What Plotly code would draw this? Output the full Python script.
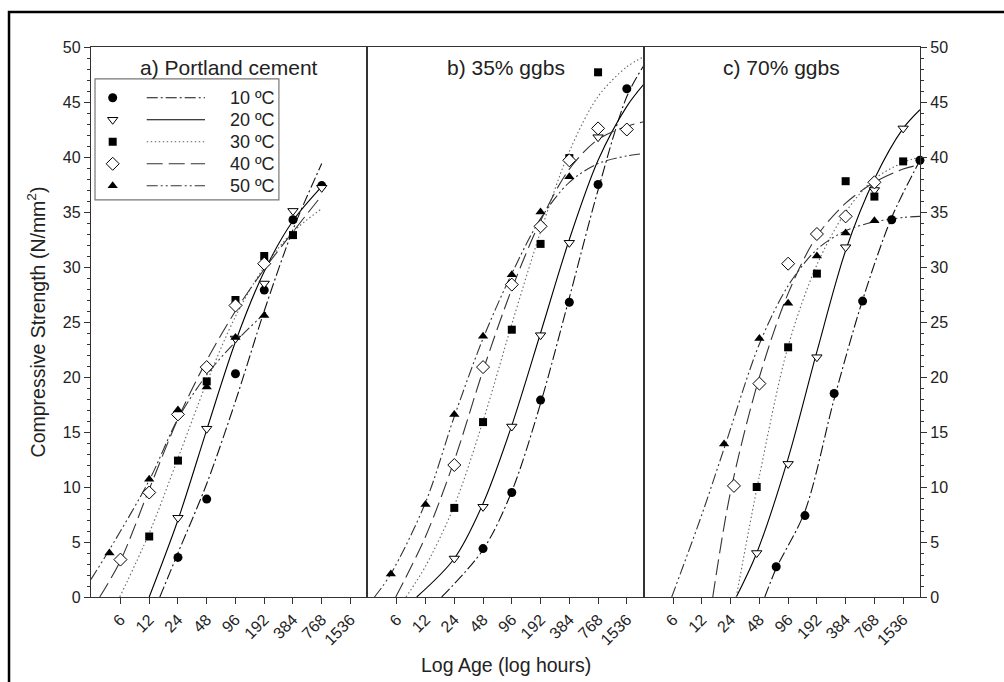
import math
import plotly.graph_objects as go

FONT = "Liberation Sans, Arial, Helvetica, sans-serif"
INK = "#222222"

temps = ["10 ºC", "20 ºC", "30 ºC", "40 ºC", "50 ºC"]
panel_titles = ["a) Portland cement", "b) 35% ggbs", "c) 70% ggbs"]
age_ticks = [6, 12, 24, 48, 96, 192, 384, 768, 1536]
age_range = [2.95, 2305]
strength_range = [0, 50]

# ---- a) Portland cement: cube results (age h, strength N/mm2) ----
pc_10 = ([24, 48, 96, 192, 384, 768], [3.6, 8.9, 20.3, 27.9, 34.3, 37.4])
pc_20 = ([24, 48, 96, 192, 384, 768], [7.2, 15.3, 23.5, 28.5, 35.1, 37.2])
pc_30 = ([12, 24, 48, 96, 192, 384], [5.5, 12.4, 19.6, 27.0, 31.0, 32.9])
pc_40 = ([6, 12, 24, 48, 96, 192], [3.4, 9.5, 16.6, 20.9, 26.5, 30.3])
pc_50 = ([4.6, 12, 24, 48, 96, 192], [4.0, 10.7, 17.0, 19.1, 23.6, 25.6])
# fitted strength-development curves
pc_10_fit = ([15.5, 24, 48, 96, 192, 384, 768], [0, 4.0, 10.3, 17.8, 26.0, 33.4, 39.4])
pc_20_fit = ([12, 24, 48, 96, 192, 384, 768], [0, 7.0, 15.2, 23.2, 29.6, 34.2, 37.3])
pc_30_fit = ([5.9, 12, 24, 48, 96, 192, 384, 768], [0, 5.8, 12.6, 19.5, 25.5, 30.0, 33.2, 35.3])
pc_40_fit = ([3.64, 6, 12, 24, 48, 96, 192, 384, 768], [0, 3.3, 9.8, 16.2, 21.5, 26.0, 29.8, 33.2, 36.5])
pc_50_fit = ([2.95, 4.6, 12, 24, 48, 96, 200], [1.6, 4.3, 10.6, 16.2, 20.2, 23.2, 25.9])

# ---- b) 35% ggbs ----
g35_10 = ([48, 96, 192, 384, 768, 1536], [4.4, 9.5, 17.9, 26.8, 37.5, 46.2])
g35_20 = ([24, 48, 96, 192, 384, 768], [3.5, 8.2, 15.5, 23.8, 32.2, 41.8])
g35_30 = ([24, 48, 96, 192, 384, 768], [8.1, 15.9, 24.3, 32.1, 39.9, 47.7])
g35_40 = ([24, 48, 96, 192, 384, 768, 1536], [12.0, 20.9, 28.4, 33.7, 39.7, 42.6, 42.5])
g35_50 = ([5.2, 12, 24, 48, 96, 192, 384], [2.1, 8.4, 16.6, 23.7, 29.3, 35.0, 38.2])
g35_10_fit = ([17.7, 48, 96, 192, 384, 768, 1536, 2305], [0, 4.3, 9.6, 17.6, 27.2, 37.0, 45.5, 48.3])
g35_20_fit = ([9.7, 24, 48, 96, 192, 384, 768, 1536, 2305], [0, 3.5, 8.5, 15.6, 24.0, 32.5, 39.7, 44.6, 46.6])
g35_30_fit = ([7.5, 12, 24, 48, 96, 192, 384, 768, 1536, 2305], [0, 2.8, 8.3, 16.0, 24.8, 33.2, 40.5, 45.5, 48.2, 49.1])
g35_40_fit = ([5.85, 12, 24, 48, 96, 192, 384, 768, 1536, 2305], [0, 5.5, 12.4, 20.6, 28.0, 34.2, 38.9, 41.6, 42.8, 43.2])
g35_50_fit = ([3.5, 5.2, 12, 24, 48, 96, 192, 384, 768, 1536, 2305], [0, 2.1, 8.6, 16.4, 23.5, 29.4, 34.4, 37.7, 39.4, 40.1, 40.3])

# ---- c) 70% ggbs ----
g70_10 = ([72, 144, 291, 578, 1165, 2300], [2.75, 7.4, 18.5, 26.9, 34.3, 39.7])
g70_20 = ([45, 96, 192, 384, 768, 1536], [4.0, 12.1, 21.8, 31.8, 37.0, 42.6])
g70_30 = ([45, 96, 192, 384, 768, 1536], [10.0, 22.7, 29.4, 37.8, 36.4, 39.6])
g70_40 = ([26, 48, 96, 192, 384, 768], [10.1, 19.4, 30.3, 33.0, 34.6, 37.7])
g70_50 = ([20.5, 48, 96, 192, 384, 768], [13.9, 23.5, 26.7, 31.0, 33.1, 34.2])
g70_10_fit = ([54.7, 72, 144, 291, 578, 1165, 2305], [0, 2.6, 7.8, 18.0, 27.0, 34.5, 39.7])
g70_20_fit = ([27.5, 45, 96, 192, 384, 768, 1536, 2305], [0, 4.0, 12.6, 22.3, 31.5, 38.0, 42.6, 44.3])
g70_30_fit = ([27.5, 48, 96, 192, 384, 768, 1536, 2305], [0, 11.0, 22.8, 30.2, 35.0, 38.0, 39.5, 40.0])
g70_40_fit = ([15.6, 24, 48, 96, 192, 384, 768, 1536, 2305], [0, 9.6, 20.0, 27.6, 32.8, 35.8, 37.7, 38.9, 39.3])
g70_50_fit = ([5.8, 12, 20.5, 48, 96, 192, 384, 768, 1536, 2305], [0, 7.5, 13.5, 23.0, 28.3, 31.6, 33.3, 34.1, 34.5, 34.6])

panels = [
    ([pc_10, pc_20, pc_30, pc_40, pc_50], [pc_10_fit, pc_20_fit, pc_30_fit, pc_40_fit, pc_50_fit]),
    ([g35_10, g35_20, g35_30, g35_40, g35_50], [g35_10_fit, g35_20_fit, g35_30_fit, g35_40_fit, g35_50_fit]),
    ([g70_10, g70_20, g70_30, g70_40, g70_50], [g70_10_fit, g70_20_fit, g70_30_fit, g70_40_fit, g70_50_fit]),
]

# marker and line style per curing temperature
markers = [
    dict(symbol="circle", size=9, color="black", line=dict(color="black", width=0)),
    dict(symbol="triangle-down", size=9, color="white", line=dict(color="black", width=1)),
    dict(symbol="square", size=8, color="black", line=dict(color="black", width=0)),
    dict(symbol="diamond", size=10, color="white", line=dict(color="black", width=1)),
    dict(symbol="triangle-up", size=9, color="black", line=dict(color="black", width=0)),
]
line_styles = [
    dict(color="#111111", width=1.1, dash="11px,3px,2px,3px"),
    dict(color="#000000", width=1.1, dash="solid"),
    dict(color="#666666", width=1.1, dash="1.5px,2.5px"),
    dict(color="#333333", width=1.1, dash="16px,6px"),
    dict(color="#333333", width=1.1, dash="11px,3px,2px,3px,2px,3px"),
]

fig = go.Figure()
for p, (pts, fits) in enumerate(panels):
    xa = "x" if p == 0 else f"x{p + 1}"
    ya = "y" if p == 0 else f"y{p + 1}"
    for i, (fx, fy) in enumerate(fits):
        fig.add_trace(go.Scatter(
            x=fx, y=fy, mode="lines", xaxis=xa, yaxis=ya, showlegend=False,
            line=dict(**line_styles[i], shape="spline", smoothing=0.9), hoverinfo="skip"))
    for i, (px_, py_) in enumerate(pts):
        fig.add_trace(go.Scatter(
            x=px_, y=py_, mode="markers", xaxis=xa, yaxis=ya, showlegend=False,
            marker=markers[i], cliponaxis=False, name=temps[i]))

# ---- legend key drawn inside panel a (x4/y4 overlay panel a in 0..1 units) ----
leg_box = dict(x0=0.0145, x1=0.680, y0=0.722, y1=0.942)
leg_marker_x = 0.0785
leg_line_x = [0.2016, 0.4126]
leg_text_x = 0.4958
leg_row_top = 0.9077
leg_row_step = 0.04

for i, t in enumerate(temps):
    ry = leg_row_top - i * leg_row_step
    fig.add_trace(go.Scatter(x=leg_line_x, y=[ry, ry], mode="lines", xaxis="x4", yaxis="y4",
                             line=line_styles[i], showlegend=False, hoverinfo="skip"))
    fig.add_trace(go.Scatter(x=[leg_marker_x], y=[ry], mode="markers", xaxis="x4", yaxis="y4",
                             marker=markers[i], showlegend=False, hoverinfo="skip"))
    fig.add_annotation(x=leg_text_x, y=ry, xref="x4", yref="y4", text=t, showarrow=False,
                       xanchor="left", yanchor="middle", font=dict(family=FONT, size=18, color=INK))

fig.add_shape(type="rect", xref="x4", yref="y4", layer="below",
              line=dict(color="#777777", width=1.2), fillcolor="white", **leg_box)

# ---- axes ----
domains = [[0, 1 / 3], [1 / 3, 2 / 3], [2 / 3, 1]]
frame = dict(showline=True, linecolor="#333333", linewidth=1.3, mirror=True,
             showgrid=False, zeroline=False)
log_range = [math.log10(age_range[0]), math.log10(age_range[1])]
for p in range(3):
    xkey = "xaxis" if p == 0 else f"xaxis{p + 1}"
    ykey = "yaxis" if p == 0 else f"yaxis{p + 1}"
    anchor_y = "y" if p == 0 else f"y{p + 1}"
    anchor_x = "x" if p == 0 else f"x{p + 1}"
    fig.layout[xkey] = dict(
        type="log", domain=domains[p], range=log_range, anchor=anchor_y,
        tickvals=age_ticks, ticktext=[str(a) for a in age_ticks], tickangle=-45,
        ticks="outside", ticklen=6, tickcolor="#333333",
        tickfont=dict(family=FONT, size=16, color=INK), **frame)
    ycfg = dict(range=strength_range, anchor=anchor_x, domain=[0, 1], **frame)
    if p == 1:
        ycfg.update(showticklabels=False, ticks="")
    else:
        ycfg.update(
            tickmode="linear", tick0=0, dtick=5, ticks="outside", ticklen=6, tickcolor="#333333",
            tickfont=dict(family=FONT, size=16, color=INK),
            minor=dict(dtick=1, ticks="outside", ticklen=3, tickcolor="#333333"),
            side="left" if p == 0 else "right")
    if p == 0:
        ycfg["title"] = dict(text="Compressive Strength (N/mm<sup>2</sup>)", standoff=12,
                             font=dict(family=FONT, size=19.5, color=INK))
    fig.layout[ykey] = ycfg

fig.layout["xaxis4"] = dict(overlaying="x", range=[0, 1], anchor="y4", visible=False, fixedrange=True)
fig.layout["yaxis4"] = dict(overlaying="y", range=[0, 1], anchor="x4", visible=False, fixedrange=True)

# panel headings
for p, title in enumerate(panel_titles):
    fig.add_annotation(x=(domains[p][0] + domains[p][1]) / 2, y=0.9636, xref="paper", yref="paper",
                       text=title, showarrow=False, xanchor="center", yanchor="middle",
                       font=dict(family=FONT, size=21, color=INK))

fig.add_annotation(x=0.5, y=-0.124, xref="paper", yref="paper", text="Log Age (log hours)",
                   showarrow=False, xanchor="center", yanchor="middle",
                   font=dict(family=FONT, size=19.5, color=INK))

# outer frame around the whole figure
fig.add_shape(type="rect", xref="paper", yref="paper", x0=-0.0989, x1=1.12, y0=-0.17, y1=1.0636,
              line=dict(color="black", width=2.5), fillcolor="rgba(0,0,0,0)", layer="above")

fig.update_layout(
    width=1004, height=682,
    margin=dict(l=91, r=84, t=47, b=85),
    paper_bgcolor="white", plot_bgcolor="rgba(0,0,0,0)",
    font=dict(family=FONT, color=INK),
    showlegend=False,
)

fig.write_html("out.html")
